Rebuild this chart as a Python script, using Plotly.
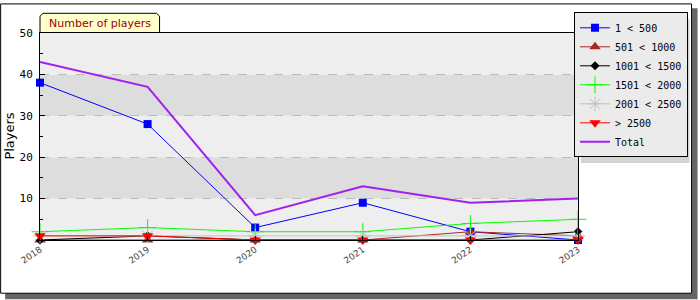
import plotly.graph_objects as go

years = [2018, 2019, 2020, 2021, 2022, 2023]
s_1_500 = [38, 28, 3, 9, 2, 0]
s_501_1000 = [0, 0, 0, 0, 2, 1]
s_1001_1500 = [0, 1, 0, 0, 0, 2]
s_1501_2000 = [2, 3, 2, 2, 4, 5]
s_2001_2500 = [1, 1, 1, 1, 1, 1]
s_gt_2500 = [1, 1, 0, 0, 0, 0]
s_total = [43, 37, 6, 13, 9, 10]

names = ["1 < 500", "501 < 1000", "1001 < 1500", "1501 < 2000", "2001 < 2500", "> 2500", "Total"]
y_ticks = [0, 10, 20, 30, 40, 50]
y_ticktext = ["", "10", "20", "30", "40", "50"]

W, H = 700, 300
L, R, T, B = 40, 120, 30, 60
PW, PH = W - L - R, H - T - B


def px(xp):
    return (xp - L) / PW


def py(yp):
    return (H - B - yp) / PH


MONO = "DejaVu Sans Mono"
SANS = "DejaVu Sans"

fig = go.Figure()

series = [
    (s_1_500, "#0000ff", dict(symbol="square", size=8, color="#0000ff")),
    (s_501_1000, "#a52a2a", dict(symbol="triangle-up", size=10, color="#a52a2a")),
    (s_1001_1500, "#000000", dict(symbol="diamond", size=7, color="#000000")),
    (s_1501_2000, "#00ff00", dict(symbol="cross-thin-open", size=12, color="#00ff00", line=dict(width=1, color="#00ff00"))),
    (s_2001_2500, "#c0c0c0", dict(symbol="asterisk-open", size=12, color="#c0c0c0", line=dict(width=1, color="#c0c0c0"))),
    (s_gt_2500, "#ff0000", dict(symbol="triangle-down", size=10, color="#ff0000")),
]
for (vals, col, mk), nm in zip(series, names[:6]):
    fig.add_trace(go.Scatter(x=years, y=vals, name=nm, mode="lines+markers",
                             line=dict(color=col, width=1), marker=mk, cliponaxis=False))
fig.add_trace(go.Scatter(x=years, y=s_total, name=names[6], mode="lines",
                         line=dict(color="#a020f0", width=2), cliponaxis=False))

shapes = []
# outer shadow and frame
shapes.append(dict(type="rect", xref="paper", yref="paper", x0=px(5), x1=px(700), y0=py(5), y1=py(300),
                   fillcolor="#666666", line=dict(width=0), layer="below"))
shapes.append(dict(type="rect", xref="paper", yref="paper", x0=px(0.5), x1=px(694), y0=py(0.5), y1=py(294),
                   fillcolor="#ffffff", line=dict(width=1, color="#000000"), layer="below"))
# legend shadow
shapes.append(dict(type="rect", xref="paper", yref="paper", x0=px(583), x1=px(692), y0=py(16), y1=py(162),
                   fillcolor="#d3d3d3", line=dict(width=0), layer="below"))
# title tab
tab = [(40, 30), (40, 13), (43, 10), (157, 10), (160, 13), (160, 30)]
path = "M " + " L ".join(f"{px(a):.5f},{py(b):.5f}" for a, b in tab) + " Z"
shapes.append(dict(type="path", xref="paper", yref="paper", path=path,
                   fillcolor="#ffffcc", line=dict(width=1, color="#000000"), layer="below"))
# background bands
for i in range(5):
    shapes.append(dict(type="rect", xref="x domain", yref="y", x0=0, x1=1, y0=i * 10, y1=i * 10 + 10,
                       fillcolor="#eeeeee" if i % 2 == 0 else "#dddddd", line=dict(width=0), layer="below"))

fig.update_layout(
    width=W, height=H, autosize=False,
    margin=dict(l=L, r=R, t=T, b=B),
    paper_bgcolor="#ffffff", plot_bgcolor="rgba(0,0,0,0)",
    shapes=shapes,
    showlegend=True,
    legend=dict(x=px(576), y=py(9), xanchor="left", yanchor="top",
                bgcolor="#ebebeb", bordercolor="#000000", borderwidth=1,
                font=dict(family=MONO, size=10, color="#000000"),
                itemwidth=30, tracegroupgap=0),
    annotations=[
        dict(text="Number of players", xref="paper", yref="paper", x=px(100), y=py(20),
             showarrow=False, xanchor="center", yanchor="middle",
             font=dict(family=SANS, size=11, color="#990000")),
        dict(text="Players", xref="paper", yref="paper", x=px(9), y=py(135), textangle=-90,
             showarrow=False, xanchor="center", yanchor="middle",
             font=dict(family=SANS, size=13, color="#000000")),
    ],
    xaxis=dict(range=[2018, 2023], tickvals=years, ticktext=[str(y) for y in years],
               tickangle=-35, tickfont=dict(family=SANS, size=9, color="#444444"),
               showgrid=False, zeroline=False, showline=True, linecolor="#000000", linewidth=1,
               mirror=True, ticks="inside", ticklen=4, tickcolor="#000000"),
    yaxis=dict(range=[0, 50], tickvals=y_ticks, ticktext=y_ticktext,
               tickfont=dict(family=MONO, size=11, color="#000000"),
               showgrid=True, gridcolor="#bbbbbb", griddash="dash", gridwidth=1,
               zeroline=False, showline=True, linecolor="#000000", linewidth=1, mirror=True,
               ticks="inside", ticklen=5, tickcolor="#000000", ticklabelstandoff=4,
               minor=dict(ticks="inside", dtick=5, ticklen=3, tickcolor="#000000", showgrid=False)),
)

fig.write_html("out.html")
